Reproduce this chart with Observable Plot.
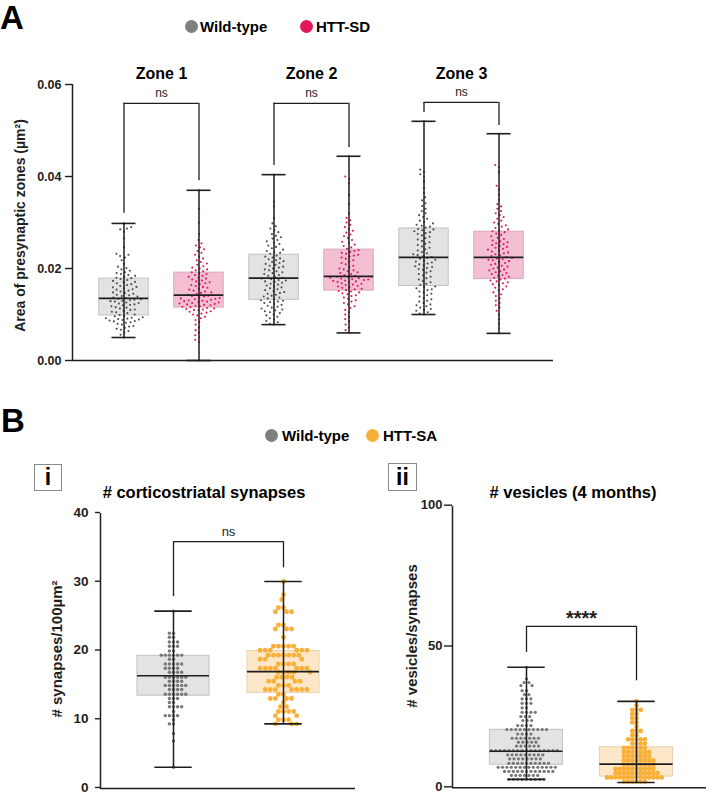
<!DOCTYPE html>
<html><head><meta charset="utf-8">
<script src="https://cdn.jsdelivr.net/npm/d3@7"></script>
<script src="https://cdn.jsdelivr.net/npm/@observablehq/plot@0.6"></script>
<style>
body{margin:0;background:#fff;}
#fig{position:relative;width:712px;height:793px;font-family:"Liberation Sans",Arial,sans-serif;overflow:hidden;background:#fff;}
#fig svg{position:absolute;left:0;top:0;}
.t{position:absolute;font-weight:bold;color:#000;white-space:nowrap;line-height:1;}
.dot{position:absolute;border-radius:50%;}
.box{position:absolute;border:1px solid #8a8a8a;box-sizing:border-box;display:flex;align-items:center;justify-content:center;font-weight:bold;font-size:23px;line-height:1;}
</style></head><body><div id="fig"></div>
<script>
// ---------------- Panel A data ----------------
const groupsA = ["WT1","SD1","WT2","SD2","WT3","SD3"];
const zonesA = ["Zone 1","Zone 2","Zone 3"];
const sigA = ["ns","ns","ns"];
const ticksA = [0, 0.02, 0.04, 0.06];

const zone1WT = [.0050,.0056,.0061,.0064,.0067,.0069,.0071,.0074,.0075,.0078,.0080,.0082,.0083,.0085,.0086,.0087,.0088,.0089,.0090,.0091,.0092,.0093,.0094,.0096,.0097,
 .0099,.0100,.0103,.0105,.0106,.0108,.0110,.0111,.0113,.0115,.0116,.0118,.0120,.0121,.0122,.0124,.0125,.0126,.0128,.0129,.0130,.0131,.0132,.0133,.0134,
 .0136,.0137,.0139,.0140,.0142,.0143,.0145,.0147,.0148,.0150,.0152,.0154,.0155,.0157,.0159,.0160,.0162,.0164,.0166,.0168,.0170,.0171,.0173,.0175,.0177,
 .0179,.0180,.0182,.0184,.0186,.0188,.0190,.0192,.0195,.0198,.0201,.0204,.0210,.0218,.0224,.0227,.0230,.0232,.0246,.0265,.0280,.0285,.0287,.0290,.0298];
const zone1SD = [.0000,.0040,.0045,.0050,.0055,.0060,.0066,.0072,.0078,.0083,.0088,.0092,.0095,.0098,.0100,.0102,.0104,.0106,.0107,.0109,.0110,.0111,.0112,.0113,.0114,
 .0116,.0117,.0118,.0119,.0120,.0121,.0122,.0123,.0124,.0125,.0126,.0127,.0128,.0129,.0130,.0131,.0132,.0133,.0134,.0135,.0136,.0137,.0139,.0140,.0141,
 .0143,.0145,.0147,.0148,.0150,.0152,.0154,.0156,.0158,.0160,.0162,.0164,.0166,.0168,.0170,.0172,.0174,.0176,.0178,.0180,.0182,.0184,.0186,.0188,.0190,
 .0192,.0194,.0196,.0198,.0200,.0202,.0205,.0208,.0211,.0214,.0218,.0222,.0226,.0230,.0234,.0238,.0242,.0246,.0250,.0255,.0262,.0275,.0300,.0330,.0370];
const zone2WT = [.0078,.0080,.0083,.0086,.0089,.0092,.0095,.0098,.0100,.0103,.0105,.0107,.0109,.0111,.0113,.0115,.0117,.0119,.0121,.0123,.0125,.0127,.0128,.0130,.0131,
 .0133,.0135,.0137,.0139,.0141,.0143,.0145,.0147,.0149,.0151,.0153,.0155,.0157,.0159,.0161,.0163,.0165,.0167,.0169,.0171,.0172,.0174,.0175,.0177,.0178,
 .0180,.0182,.0184,.0186,.0188,.0190,.0192,.0194,.0196,.0198,.0200,.0202,.0204,.0206,.0208,.0210,.0212,.0214,.0216,.0218,.0220,.0222,.0224,.0226,.0228,
 .0232,.0234,.0236,.0238,.0241,.0244,.0247,.0250,.0253,.0256,.0259,.0262,.0265,.0268,.0271,.0275,.0279,.0283,.0287,.0292,.0298,.0310,.0335,.0345,.0404];
const zone2SD = [.0060,.0066,.0072,.0078,.0085,.0090,.0095,.0100,.0105,.0110,.0114,.0118,.0122,.0125,.0128,.0131,.0134,.0137,.0140,.0142,.0144,.0146,.0148,.0150,.0151,
 .0153,.0155,.0156,.0158,.0159,.0161,.0162,.0164,.0165,.0167,.0168,.0170,.0171,.0172,.0173,.0174,.0175,.0176,.0177,.0178,.0179,.0180,.0181,.0182,.0182,
 .0184,.0186,.0188,.0190,.0192,.0194,.0196,.0198,.0200,.0203,.0206,.0209,.0212,.0215,.0218,.0221,.0224,.0226,.0228,.0230,.0232,.0234,.0236,.0238,.0240,
 .0243,.0246,.0249,.0252,.0255,.0258,.0262,.0266,.0270,.0274,.0278,.0282,.0286,.0290,.0295,.0300,.0305,.0310,.0320,.0340,.0360,.0385,.0395,.0400,.0444];
const zone3WT = [.0100,.0102,.0105,.0108,.0110,.0112,.0115,.0118,.0120,.0122,.0125,.0128,.0130,.0133,.0136,.0139,.0142,.0145,.0148,.0150,.0153,.0155,.0157,.0159,.0161,
 .0164,.0167,.0170,.0173,.0176,.0179,.0182,.0185,.0188,.0191,.0194,.0197,.0199,.0201,.0203,.0205,.0207,.0209,.0211,.0213,.0215,.0217,.0219,.0221,.0223,
 .0225,.0227,.0229,.0231,.0233,.0236,.0239,.0242,.0245,.0248,.0251,.0254,.0257,.0260,.0263,.0266,.0269,.0272,.0275,.0277,.0279,.0281,.0283,.0285,.0286,
 .0289,.0291,.0293,.0295,.0298,.0301,.0304,.0308,.0312,.0316,.0320,.0325,.0330,.0336,.0342,.0348,.0355,.0365,.0375,.0390,.0400,.0405,.0410,.0415,.0520];
const zone3SD = [.0059,.0070,.0080,.0090,.0100,.0108,.0115,.0120,.0125,.0130,.0135,.0140,.0144,.0148,.0152,.0155,.0158,.0161,.0164,.0166,.0168,.0170,.0172,.0174,.0176,
 .0178,.0180,.0182,.0184,.0186,.0188,.0190,.0192,.0194,.0196,.0198,.0200,.0202,.0204,.0206,.0208,.0210,.0212,.0214,.0216,.0218,.0219,.0220,.0222,.0223,
 .0225,.0227,.0229,.0231,.0233,.0235,.0237,.0239,.0241,.0243,.0245,.0247,.0249,.0251,.0253,.0255,.0257,.0259,.0261,.0264,.0267,.0270,.0273,.0276,.0279,
 .0281,.0283,.0285,.0288,.0291,.0294,.0297,.0300,.0304,.0308,.0312,.0316,.0320,.0325,.0330,.0335,.0340,.0350,.0360,.0372,.0380,.0410,.0420,.0425,.0493];

const boxMinA = [0.0050, 0.0000, 0.0078, 0.0060, 0.0100, 0.0059];
const boxQ1A  = [0.0098, 0.0115, 0.0132, 0.0152, 0.0162, 0.0177];
const boxMedA = [0.0135, 0.0142, 0.0179, 0.0183, 0.0224, 0.0224];
const boxQ3A  = [0.0178, 0.0191, 0.0230, 0.0241, 0.0287, 0.0280];
const boxMaxA = [0.0298, 0.0370, 0.0404, 0.0444, 0.0520, 0.0493];
const bracketTopA   = [0.0559, 0.0559, 0.0561];
const bracketLeftA  = [0.0320, 0.0424, 0.0539];
const bracketRightA = [0.0391, 0.0463, 0.0511];

// ---------------- Panel B data ----------------
const groupsB = ["Wild-type", "HTT-SA"];
// Bi: synapses per 100 µm² (levels and number of dots at each level)
const biWtLevels = [25.8,22.6,22.0,21.3,20.7,20.0,19.4,18.8,18.1,17.5,16.9,16.2,15.6,15.0,14.4,13.7,13.1,12.5,11.9,11.2,10.6,10.0,9.4,8.0,6.9,3.1];
const biWtCounts = [1,2,2,3,3,2,6,2,5,4,4,6,4,6,4,6,3,2,4,1,4,1,2,1,1,1];
const biSaLevels = [30.1,28.2,27.5,26.3,25.7,23.8,23.2,22.0,20.7,20.1,19.4,18.8,18.1,17.5,16.9,16.2,15.6,15.0,14.4,13.7,13.1,12.5,11.9,11.2,10.6,10.0,9.4];
const biSaCounts = [1,1,1,2,3,2,3,1,5,6,7,3,4,7,5,4,4,3,7,2,4,1,2,4,2,3,3];
const biMin = [3.1, 9.4], biQ1 = [13.5, 13.9], biMed = [16.4, 17.0], biQ3 = [19.3, 20.0], biMax = [25.8, 30.1];
const biBracket = {top: 35.9, left: 27.9, right: 32.1, label: "ns"};
const biTicks = [0, 10, 20, 30, 40];

// Bii: vesicles per synapse
const biiWtLevels = [42.8,38.7,37.4,36.3,34.5,33.1,31.6,30.0,28.4,26.8,25.3,23.9,22.1,20.7,19.1,17.6,16.2,14.8,13.2,11.7,10.3,8.7,7.3,5.8,4.4,3.0];
const biiWtCounts = [1,1,2,2,2,2,3,3,2,4,3,3,4,10,4,7,5,6,16,9,8,10,14,12,7,9];
const biiSaLevels = [30.7,29.2,27.7,26.2,24.7,23.2,21.7,20.2,18.7,17.2,15.7,14.2,12.7,11.2,9.7,8.2,6.7,5.2,3.7,2.2];
const biiSaCounts = [1,1,3,2,2,2,1,3,2,5,4,6,7,7,8,8,10,11,14,6];
const biiMin = [3.0, 1.9], biiQ1 = [8.2, 4.0], biiMed = [13.0, 8.4], biiQ3 = [20.6, 14.4], biiMax = [42.8, 30.7];
const biiBracket = {top: 57.3, left: 48.1, right: 38.0, label: "****"};
const biiTicks = [0, 50, 100];

// ---------------- colours ----------------
const wtDotA = "#4d4d4d", sdDotA = "#e2175c";
const wtBox = "#e3e3e3", wtBoxStroke = "#c2c2c2";
const sdBox = "#f4bfd2", sdBoxStroke = "#d7aabb";
const wtDotB = "#777777", saDotB = "#f8b03a";
const saBox = "#fde7c9", saBoxStroke = "#e9d2b0";
const ink = "#1e1e1e";

const W = 712, H = 793;
const fig = document.getElementById("fig");
const baseStyle = {background: "transparent", overflow: "visible", fontFamily: "'Liberation Sans', Arial, sans-serif"};

// ---------------- tables ----------------
const seriesA = [zone1WT, zone1SD, zone2WT, zone2SD, zone3WT, zone3SD];
const dotsA = groupsA.flatMap((g, i) => seriesA[i].map(v => ({g, v, fill: i % 2 ? sdDotA : wtDotA})));
const statsA = groupsA.map((g, i) => ({g, lo: boxMinA[i], q1: boxQ1A[i], med: boxMedA[i], q3: boxQ3A[i], hi: boxMaxA[i],
  fill: i % 2 ? sdBox : wtBox, stroke: i % 2 ? sdBoxStroke : wtBoxStroke}));
const bracketsA = zonesA.map((z, k) => ({zone: z, wt: groupsA[2 * k], sd: groupsA[2 * k + 1],
  top: bracketTopA[k], armL: bracketLeftA[k], armR: bracketRightA[k], label: sigA[k]}));

function expand(levels, counts, g, fill) {
  return levels.flatMap((v, i) => Array.from({length: counts[i]}, () => ({g, v, fill})));
}
const dotsBi = [...expand(biWtLevels, biWtCounts, groupsB[0], wtDotB), ...expand(biSaLevels, biSaCounts, groupsB[1], saDotB)];
const dotsBii = [...expand(biiWtLevels, biiWtCounts, groupsB[0], wtDotB), ...expand(biiSaLevels, biiSaCounts, groupsB[1], saDotB)];
function statsB(mn, q1, md, q3, mx) {
  return groupsB.map((g, i) => ({g, lo: mn[i], q1: q1[i], med: md[i], q3: q3[i], hi: mx[i],
    fill: i ? saBox : wtBox, stroke: i ? saBoxStroke : wtBoxStroke}));
}
const statsBi = statsB(biMin, biQ1, biMed, biQ3, biMax);
const statsBii = statsB(biiMin, biiQ1, biiMed, biiQ3, biiMax);

// ---------------- helpers ----------------
function axesPlot({mt, mb, ml, mr, domain, ticks, fmt, tickSize, tickPadding, fontSize, tickDy = 0, label, labelDx, labelDy, labelSize}) {
  return Plot.plot({
    width: W, height: H, marginTop: mt, marginBottom: mb, marginLeft: ml, marginRight: mr,
    style: baseStyle,
    x: {domain: [0, 1], axis: null},
    y: {domain, axis: null},
    marks: [
      Plot.axisY(ticks, {tickSize, tickPadding, tickFormat: fmt, fontSize, fontWeight: "bold", fill: ink, stroke: ink, strokeWidth: 1.4, label: null, dy: tickDy}),
      Plot.ruleX([0], {stroke: ink, strokeWidth: 1.5}),
      Plot.ruleY([domain[0]], {stroke: ink, strokeWidth: 1.5}),
      Plot.text([label], {text: d => d, frameAnchor: "left", textAnchor: "middle", lineAnchor: "middle", rotate: -90, dx: labelDx, dy: labelDy, fontSize: labelSize, fontWeight: "bold", fill: ink})
    ]
  });
}

function boxMarks(stats, boxHalf) {
  return [
    Plot.rect(stats, {fx: "g", x1: -boxHalf, x2: boxHalf, y1: "q1", y2: "q3", fill: "fill", stroke: "stroke", strokeWidth: 1})
  ];
}
function lineMarks(stats, boxHalf, capHalf, medWidth) {
  return [
    Plot.ruleX(stats, {fx: "g", x: 0, y1: "lo", y2: "hi", stroke: ink, strokeWidth: 1.5}),
    Plot.ruleY(stats, {fx: "g", y: "hi", x1: -capHalf, x2: capHalf, stroke: ink, strokeWidth: 1.6}),
    Plot.ruleY(stats, {fx: "g", y: "lo", x1: -capHalf, x2: capHalf, stroke: ink, strokeWidth: 1.6}),
    Plot.ruleY(stats, {fx: "g", y: "med", x1: -boxHalf, x2: boxHalf, stroke: ink, strokeWidth: medWidth})
  ];
}
function bracketMarks(br, fxL, fxR, textOpts) {
  return [
    Plot.ruleX(br, {fx: fxL, x: 0, y1: "armL", y2: "top", stroke: ink, strokeWidth: 1.3}),
    Plot.ruleX(br, {fx: fxR, x: 0, y1: "armR", y2: "top", stroke: ink, strokeWidth: 1.3}),
    Plot.ruleY(br, {fx: fxL, y: "top", x1: 0, x2: 1, stroke: ink, strokeWidth: 1.3}),
    Plot.ruleY(br, {fx: fxR, y: "top", x1: -1, x2: 0, stroke: ink, strokeWidth: 1.3}),
    Plot.text(br, {fx: fxL, x: 1, y: "top", text: "label", fill: ink, ...textOpts})
  ];
}

// ---------------- Panel A ----------------
fig.appendChild(axesPlot({mt: 84, mb: H - 360, ml: 72, mr: W - 553, domain: [0, 0.06], ticks: ticksA,
  fmt: d3.format(".2f"), tickSize: 7, tickPadding: 4, fontSize: 12.5,
  label: "Area of presynaptic zones (µm²)", labelDx: -52, labelDy: 3, labelSize: 14}));

fig.appendChild(Plot.plot({
  width: W, height: H, marginTop: 84, marginBottom: H - 360, marginLeft: 84.3, marginRight: W - 536.7,
  style: baseStyle,
  fx: {domain: groupsA, padding: 0, axis: null},
  x: {domain: [-1, 1], axis: null},
  y: {domain: [0, 0.06], axis: null},
  color: {type: "identity"},
  marks: [
    ...boxMarks(statsA, 0.66),
    Plot.dot(dotsA, Plot.dodgeX({anchor: "middle", padding: 2.3}, {fx: "g", y: "v", r: 1.05, fill: "fill", stroke: null})),
    ...lineMarks(statsA, 0.66, 0.32, 1.8),
    ...bracketMarks(bracketsA, "wt", "sd", {dy: -10, fontSize: 12}),
    Plot.text(bracketsA, {fx: "wt", x: 1, frameAnchor: "top", lineAnchor: "middle", text: "zone", dy: -11, fontSize: 16, fontWeight: "bold", fill: "#000"})
  ]
}));

// ---------------- Panel Bi ----------------
const biBr = [{wt: groupsB[0], sd: groupsB[1], top: biBracket.top, armL: biBracket.left, armR: biBracket.right, label: biBracket.label}];
fig.appendChild(axesPlot({mt: 513, mb: H - 788, ml: 100, mr: W - 355, domain: [0, 40], ticks: biTicks,
  fmt: d3.format("d"), tickSize: 5, tickPadding: 7, fontSize: 13.5, tickDy: -1,
  label: "# synapses/100µm²", labelDx: -43, labelDy: -2, labelSize: 15}));
fig.appendChild(Plot.plot({
  width: W, height: H, marginTop: 513, marginBottom: H - 788, marginLeft: 118, marginRight: W - 338,
  style: baseStyle,
  fx: {domain: groupsB, padding: 0, axis: null},
  x: {domain: [-1, 1], axis: null},
  y: {domain: [0, 40], axis: null},
  color: {type: "identity"},
  marks: [
    ...boxMarks(statsBi, 0.655),
    Plot.dot(dotsBi.filter(d => d.g === groupsB[0]), Plot.dodgeX({anchor: "middle", padding: 0.7}, {fx: "g", y: "v", r: 1.7, fill: "fill", stroke: null})),
    Plot.dot(dotsBi.filter(d => d.g === groupsB[1]), Plot.dodgeX({anchor: "middle", padding: 0.2}, {fx: "g", y: "v", r: 2.45, fill: "fill", stroke: null})),
    ...lineMarks(statsBi, 0.655, 0.34, 1.6),
    ...bracketMarks(biBr, "wt", "sd", {dy: -10, fontSize: 13})
  ]
}));

// ---------------- Panel Bii ----------------
const biiBr = [{wt: groupsB[0], sd: groupsB[1], top: biiBracket.top, armL: biiBracket.left, armR: biiBracket.right, label: biiBracket.label}];
fig.appendChild(axesPlot({mt: 505.7, mb: H - 787.3, ml: 452, mr: W - 706, domain: [0, 100], ticks: biiTicks,
  fmt: d3.format("d"), tickSize: 8, tickPadding: 2, fontSize: 13, tickDy: -1,
  label: "# vesicles/synapses", labelDx: -40, labelDy: -11, labelSize: 15}));
fig.appendChild(Plot.plot({
  width: W, height: H, marginTop: 505.7, marginBottom: H - 787.3, marginLeft: 471, marginRight: W - 691,
  style: baseStyle,
  fx: {domain: groupsB, padding: 0, axis: null},
  x: {domain: [-1, 1], axis: null},
  y: {domain: [0, 100], axis: null},
  color: {type: "identity"},
  marks: [
    ...boxMarks(statsBii, 0.665),
    Plot.dot(dotsBii.filter(d => d.g === groupsB[0]), Plot.dodgeX({anchor: "middle", padding: 1.2}, {fx: "g", y: "v", r: 1.6, fill: "fill", stroke: null})),
    Plot.dot(dotsBii.filter(d => d.g === groupsB[1]), Plot.dodgeX({anchor: "middle", padding: -0.6}, {fx: "g", y: "v", r: 2.4, fill: "fill", stroke: null})),
    ...lineMarks(statsBii, 0.665, 0.34, 1.6),
    ...bracketMarks(biiBr, "wt", "sd", {dy: -8, fontSize: 20, fontWeight: "bold"})
  ]
}));

// ---------------- HTML text: panel letters, legends, titles ----------------
function addText(txt, left, top, size, extra = "") {
  const d = document.createElement("div");
  d.className = "t";
  d.textContent = txt;
  d.style.cssText += `left:${left}px;top:${top}px;font-size:${size}px;${extra}`;
  fig.appendChild(d);
  return d;
}
function addDot(cx, cy, r, color) {
  const d = document.createElement("div");
  d.className = "dot";
  d.style.cssText += `left:${cx - r}px;top:${cy - r}px;width:${2 * r}px;height:${2 * r}px;background:${color};`;
  fig.appendChild(d);
}
function addBox(txt, left, top, w, h) {
  const d = document.createElement("div");
  d.className = "box";
  d.textContent = txt;
  d.style.cssText += `left:${left}px;top:${top}px;width:${w}px;height:${h}px;`;
  fig.appendChild(d);
}
addText("A", 0, 1, 33);
addText("B", 1, 404, 33);
addDot(191, 26, 6.5, "#7f7f7f");
addText("Wild-type", 200, 18.6, 15);
addDot(306, 26, 6.5, "#e0185a");
addText("HTT-SD", 316, 18.6, 15);
addDot(271, 435, 6.5, "#7f7f7f");
addText("Wild-type", 282, 427.6, 15);
addDot(372, 435, 6.5, "#f8b03a");
addText("HTT-SA", 383, 427.6, 15);
addBox("i", 34, 464, 28, 27);
addBox("ii", 388, 463, 29, 28);
addText("# corticostriatal synapses", 204, 484, 16.5, "transform:translateX(-50%);");
addText("# vesicles (4 months)", 573, 484, 16.5, "transform:translateX(-50%);");
</script></body></html>
